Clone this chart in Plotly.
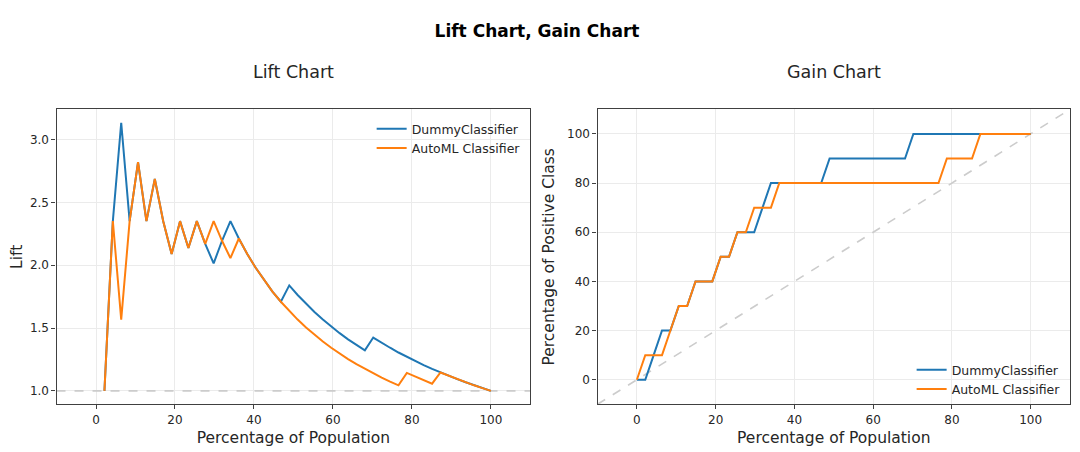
import plotly.graph_objects as go

# ---------------- data ----------------
population = [0.0, 2.13, 4.26, 6.38, 8.51, 10.64, 12.77, 14.89, 17.02, 19.15,
              21.28, 23.40, 25.53, 27.66, 29.79, 31.91, 34.04, 36.17, 38.30, 40.43,
              42.55, 44.68, 46.81, 48.94, 51.06, 53.19, 55.32, 57.45, 59.57, 61.70,
              63.83, 65.96, 68.09, 70.21, 72.34, 74.47, 76.60, 78.72, 80.85, 82.98,
              85.11, 87.23, 89.36, 91.49, 93.62, 95.74, 97.87, 100.0]

gain_dummy = [0, 0, 10, 20, 20, 30, 30, 40, 40, 40,
              50, 50, 60, 60, 60, 70, 80, 80, 80, 80,
              80, 80, 80, 90, 90, 90, 90, 90, 90, 90,
              90, 90, 90, 100, 100, 100, 100, 100, 100, 100,
              100, 100, 100, 100, 100, 100, 100, 100]

gain_automl = [0, 10, 10, 10, 20, 30, 30, 40, 40, 40,
               50, 50, 60, 60, 70, 70, 70, 80, 80, 80,
               80, 80, 80, 80, 80, 80, 80, 80, 80, 80,
               80, 80, 80, 80, 80, 80, 80, 90, 90, 90,
               90, 100, 100, 100, 100, 100, 100, 100]

# lift values at population[1:]
lift_dummy = [1.00, 2.35, 3.133, 2.35, 2.82, 2.35, 2.686, 2.35, 2.089, 2.35,
              2.136, 2.35, 2.169, 2.014, 2.194, 2.35, 2.212, 2.089, 1.979, 1.880,
              1.790, 1.709, 1.839, 1.763, 1.692, 1.627, 1.567, 1.511, 1.459, 1.410,
              1.364, 1.322, 1.424, 1.382, 1.343, 1.305, 1.270, 1.237, 1.205, 1.175,
              1.146, 1.119, 1.093, 1.068, 1.044, 1.022, 1.000]

lift_automl = [1.00, 2.35, 1.567, 2.35, 2.82, 2.35, 2.686, 2.35, 2.089, 2.35,
               2.136, 2.35, 2.169, 2.35, 2.194, 2.056, 2.212, 2.089, 1.979, 1.880,
               1.790, 1.709, 1.635, 1.567, 1.504, 1.446, 1.393, 1.343, 1.297, 1.253,
               1.213, 1.175, 1.139, 1.106, 1.074, 1.044, 1.143, 1.113, 1.085, 1.057,
               1.146, 1.119, 1.093, 1.068, 1.044, 1.022, 1.000]

baseline_x = [-10, 110]
baseline_lift = [1.0, 1.0]
baseline_gain = [-10, 110]

names = ["DummyClassifier", "AutoML Classifier"]
colors = ["#1f77b4", "#ff7f0e"]

# ---------------- figure ----------------
# the page body has an 8px margin; build the figure in window pixels minus that
OFF = 8
W, H = 1080 - OFF, 452 - OFF


def px(x):
    return (x - OFF) / W


def py(y):
    return 1 - (y - OFF) / H


FONT = "DejaVu Sans"
TXT = "#262626"
fig = go.Figure()

# left: lift chart
fig.add_trace(go.Scatter(x=baseline_x, y=baseline_lift, mode="lines",
                         line=dict(color="#cccccc", width=1.6, dash="dash"),
                         showlegend=False, xaxis="x", yaxis="y", hoverinfo="skip"))
fig.add_trace(go.Scatter(x=population[1:], y=lift_dummy, mode="lines", name=names[0],
                         line=dict(color=colors[0], width=2), xaxis="x", yaxis="y",
                         legend="legend"))
fig.add_trace(go.Scatter(x=population[1:], y=lift_automl, mode="lines", name=names[1],
                         line=dict(color=colors[1], width=2), xaxis="x", yaxis="y",
                         legend="legend"))

# right: gain chart
fig.add_trace(go.Scatter(x=baseline_x, y=baseline_gain, mode="lines",
                         line=dict(color="#cccccc", width=1.6, dash="dash"),
                         showlegend=False, xaxis="x2", yaxis="y2", hoverinfo="skip"))
fig.add_trace(go.Scatter(x=population, y=gain_dummy, mode="lines", name=names[0],
                         line=dict(color=colors[0], width=2), xaxis="x2", yaxis="y2",
                         legend="legend2"))
fig.add_trace(go.Scatter(x=population, y=gain_automl, mode="lines", name=names[1],
                         line=dict(color=colors[1], width=2), xaxis="x2", yaxis="y2",
                         legend="legend2"))

axis_common = dict(showline=True, mirror=True, linecolor="#404040", linewidth=1.3,
                   showgrid=True, gridcolor="#ebebeb", gridwidth=1, zeroline=False,
                   ticks="outside", ticklen=4, tickcolor="#404040", tickwidth=1,
                   tickfont=dict(family=FONT, size=12, color=TXT))

ydom = [py(404.3), py(109.3)]

fig.update_layout(
    width=W, height=H,
    margin=dict(l=0, r=0, t=0, b=0),
    paper_bgcolor="white", plot_bgcolor="white",
    font=dict(family=FONT, color=TXT),
    title=dict(text="<b>Lift Chart, Gain Chart</b>", x=px(537), xanchor="center",
               y=py(31.5), yanchor="middle", yref="container",
               font=dict(family=FONT, size=17, color="black")),
    xaxis=dict(domain=[px(52.7), px(528.3)], range=[-10, 110],
               tickvals=[0, 20, 40, 60, 80, 100],
               title=dict(text="Percentage of Population", standoff=6,
                          font=dict(family=FONT, size=15.5, color=TXT)),
               anchor="y", **axis_common),
    yaxis=dict(domain=ydom, range=[0.893, 3.24],
               tickvals=[1.0, 1.5, 2.0, 2.5, 3.0], tickformat=".1f",
               title=dict(text="Lift", standoff=11,
                          font=dict(family=FONT, size=15.5, color=TXT)),
               anchor="x", **axis_common),
    xaxis2=dict(domain=[px(595.7), px(1070)], range=[-10, 110],
                tickvals=[0, 20, 40, 60, 80, 100],
                title=dict(text="Percentage of Population", standoff=6,
                           font=dict(family=FONT, size=15.5, color=TXT)),
                anchor="y2", **axis_common),
    yaxis2=dict(domain=ydom, range=[-10, 110],
                tickvals=[0, 20, 40, 60, 80, 100],
                title=dict(text="Percentage of Positive Class", standoff=8,
                           font=dict(family=FONT, size=15.5, color=TXT)),
                anchor="x2", **axis_common),
    legend=dict(x=px(369), y=py(114), xanchor="left", yanchor="top",
                bgcolor="rgba(255,255,255,0)", borderwidth=0, tracegroupgap=0,
                font=dict(family=FONT, size=12.5, color=TXT), itemwidth=30),
    legend2=dict(x=px(911), y=py(355), xanchor="left", yanchor="top",
                 bgcolor="rgba(255,255,255,0)", borderwidth=0, tracegroupgap=0,
                 font=dict(family=FONT, size=12.5, color=TXT), itemwidth=30),
    annotations=[
        dict(text="Lift Chart", x=px(290.5), y=py(72), xref="paper", yref="paper",
             xanchor="center", yanchor="middle", showarrow=False,
             font=dict(family=FONT, size=17.5, color=TXT)),
        dict(text="Gain Chart", x=px(832.9), y=py(72), xref="paper", yref="paper",
             xanchor="center", yanchor="middle", showarrow=False,
             font=dict(family=FONT, size=17.5, color=TXT)),
    ],
)

fig.write_html("out.html")
